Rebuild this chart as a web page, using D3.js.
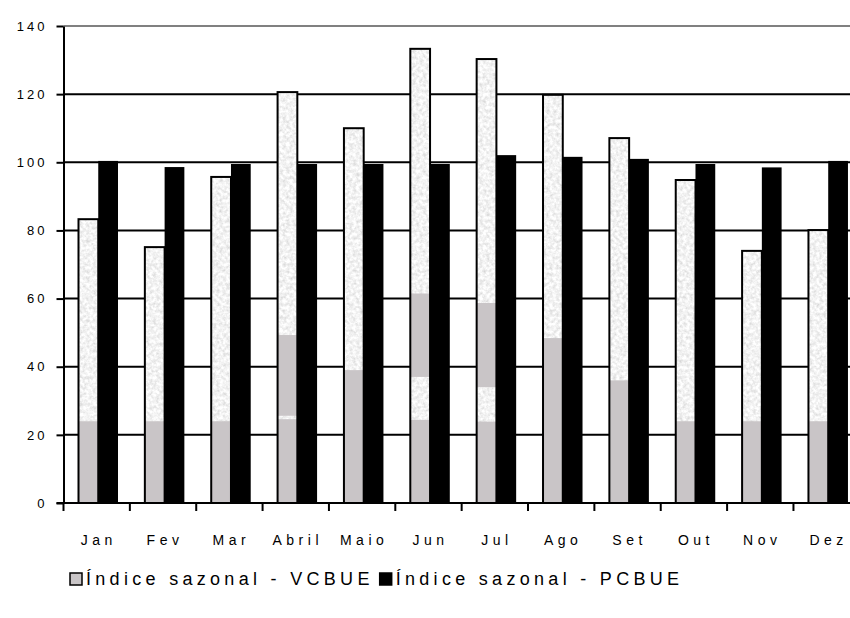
<!DOCTYPE html>
<html>
<head>
<meta charset="utf-8">
<script src="https://cdn.jsdelivr.net/npm/d3@7"></script>
<style>
  html, body { margin: 0; padding: 0; background: #fff; }
  svg { display: block; font-family: "Liberation Sans", Arial, sans-serif; }
</style>
</head>
<body>
<svg id="chart" width="850" height="618"></svg>
<script>
// Seasonal indices per month
const months = ["Jan", "Fev", "Mar", "Abril", "Maio", "Jun", "Jul", "Ago", "Set", "Out", "Nov", "Dez"];
const vcbue = [83.3, 75.1, 95.7, 120.6, 110, 133.3, 130.3, 119.8, 107.1, 94.8, 74, 80.1];
const pcbue = [100.4, 98.6, 99.5, 99.5, 99.5, 99.5, 102.1, 101.6, 101, 99.5, 98.5, 100.4];
// Solid lower band of the textured fill (top of band, and an optional lighter gap inside it)
const bandTop = [24, 24, 24, 49.3, 39, 61.5, 58.7, 48.4, 36, 24, 24, 24];
const bandGapLo = [0, 0, 0, 24.6, 0, 24.4, 23.9, 0, 0, 0, 0, 0];
const bandGapHi = [0, 0, 0, 25.6, 0, 37, 34, 0, 0, 0, 0, 0];
const yTicks = [0, 20, 40, 60, 80, 100, 120, 140];
const seriesNames = ["Índice sazonal - VCBUE", "Índice sazonal - PCBUE"];

const svg = d3.select("#chart");

// grainy light fill
const defs = svg.append("defs");
const grain = defs.append("filter").attr("id", "grain")
  .attr("x", 0).attr("y", 0).attr("width", 1).attr("height", 1);
grain.append("feTurbulence").attr("type", "fractalNoise")
  .attr("baseFrequency", 0.3).attr("numOctaves", 3).attr("seed", 7).attr("result", "n");
grain.append("feColorMatrix").attr("in", "n").attr("type", "matrix")
  .attr("values", "-0.55 0 0 0 1.17  -0.55 0 0 0 1.17  -0.55 0 0 0 1.17  0 0 0 0 1")
  .attr("result", "g");
grain.append("feComposite").attr("in", "g").attr("in2", "SourceGraphic").attr("operator", "in");

const x0 = d3.scaleBand().domain(months).range([63.5, 63.5 + 12 * 66.36]).padding(0);
const x1 = d3.scaleBand().domain(["v", "p"]).range([15, 54.5]).padding(0);
const y = d3.scaleLinear().domain([0, 140]).range([503, 26]);

const plotRight = 850;
const bandColor = "#c9c5c7";

// gridlines
svg.append("g").selectAll("line").data(yTicks.filter(d => d > 0)).join("line")
  .attr("x1", x0.range()[0]).attr("x2", plotRight)
  .attr("y1", d => y(d)).attr("y2", d => y(d))
  .attr("stroke", d => d === 140 ? "#808080" : "#000")
  .attr("stroke-width", 2);

// VCBUE bars
const gv = svg.append("g");
months.forEach((m, i) => {
  const bx = x0(m) + x1("v");
  const bw = x1.bandwidth();
  gv.append("rect").attr("x", bx).attr("y", y(vcbue[i]))
    .attr("width", bw).attr("height", y(0) - y(vcbue[i]))
    .attr("fill", "#eee").attr("filter", "url(#grain)");
  if (bandGapHi[i] > 0) {
    gv.append("rect").attr("x", bx).attr("y", y(bandGapLo[i]))
      .attr("width", bw).attr("height", y(0) - y(bandGapLo[i])).attr("fill", bandColor);
    gv.append("rect").attr("x", bx).attr("y", y(bandTop[i]))
      .attr("width", bw).attr("height", y(bandGapHi[i]) - y(bandTop[i])).attr("fill", bandColor);
  } else {
    gv.append("rect").attr("x", bx).attr("y", y(bandTop[i]))
      .attr("width", bw).attr("height", y(0) - y(bandTop[i])).attr("fill", bandColor);
  }
  gv.append("rect").attr("x", bx).attr("y", y(vcbue[i]))
    .attr("width", bw).attr("height", y(0) - y(vcbue[i]))
    .attr("fill", "none").attr("stroke", "#000").attr("stroke-width", 2);
});

// PCBUE bars
svg.append("g").selectAll("rect").data(months).join("rect")
  .attr("x", d => x0(d) + x1("p"))
  .attr("y", (d, i) => y(pcbue[i]))
  .attr("width", x1.bandwidth())
  .attr("height", (d, i) => y(0) - y(pcbue[i]))
  .attr("fill", "#000");

// y axis
const yAxis = svg.append("g").attr("transform", `translate(${x0.range()[0]},0)`)
  .call(d3.axisLeft(y).tickValues(yTicks).tickSize(7).tickPadding(12).tickSizeOuter(0));
yAxis.select(".domain").attr("stroke", "#000").attr("stroke-width", 2);
yAxis.selectAll(".tick line").attr("stroke", "#000").attr("stroke-width", 2);
yAxis.selectAll(".tick text").attr("font-size", 13).attr("fill", "#000")
  .attr("font-family", "'Liberation Sans', Arial, sans-serif")
  .style("letter-spacing", "3px").attr("dx", 3);

// x axis baseline with boundary ticks
svg.append("line").attr("x1", x0.range()[0] - 7).attr("x2", plotRight)
  .attr("y1", y(0)).attr("y2", y(0)).attr("stroke", "#000").attr("stroke-width", 2);
svg.append("g").selectAll("line").data(months).join("line")
  .attr("x1", d => x0(d)).attr("x2", d => x0(d))
  .attr("y1", y(0)).attr("y2", y(0) + 8)
  .attr("stroke", "#000").attr("stroke-width", 2);
svg.append("g").selectAll("text").data(months).join("text")
  .attr("x", d => x0(d) + x0.bandwidth() / 2 + 2)
  .attr("y", 545)
  .attr("text-anchor", "middle")
  .attr("font-size", 14)
  .style("letter-spacing", "4.5px")
  .text(d => d);

// legend: swatch followed by its label, items laid out in one line
const legend = svg.append("g");
const fills = [bandColor, "#000"];
let lx = 70;
seriesNames.forEach((name, i) => {
  legend.append("rect").attr("x", lx).attr("y", 573).attr("width", 12).attr("height", 12)
    .attr("fill", fills[i]).attr("stroke", "#000").attr("stroke-width", 1.5);
  const t = legend.append("text").attr("x", lx + 16).attr("y", 585)
    .attr("font-size", 18).style("letter-spacing", "4.3px").text(name);
  lx += 16 + t.node().getComputedTextLength() + 6;
});
</script>
</body>
</html>
